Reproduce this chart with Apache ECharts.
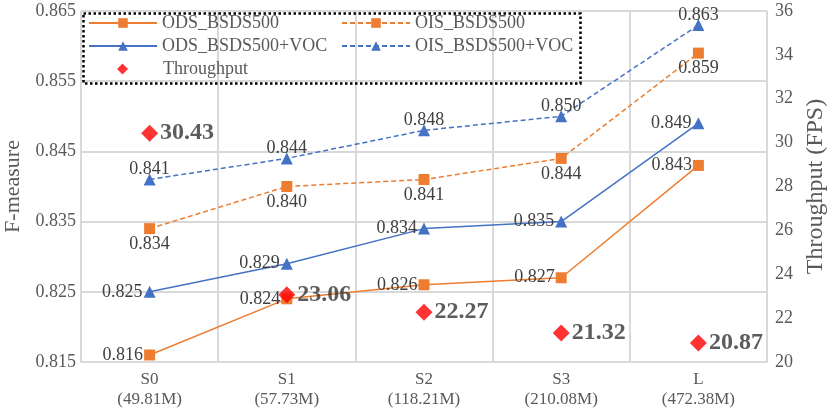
<!DOCTYPE html>
<html>
<head>
<meta charset="utf-8">
<script src="https://cdn.jsdelivr.net/npm/echarts@6/dist/echarts.min.js"></script>
<style>
html,body{margin:0;padding:0;background:#fff;}
#chart{width:831px;height:411px;}
</style>
</head>
<body>
<div id="chart"></div>
<script>
var categories = ['S0', 'S1', 'S2', 'S3', 'L'];
var modelParams = ['49.81M', '57.73M', '118.21M', '210.08M', '472.38M'];
var odsBsds = [0.816, 0.824, 0.826, 0.827, 0.843];
var oisBsds = [0.834, 0.840, 0.841, 0.844, 0.859];
var odsVoc = [0.825, 0.829, 0.834, 0.835, 0.849];
var oisVoc = [0.841, 0.844, 0.848, 0.850, 0.863];
var throughput = [30.43, 23.06, 22.27, 21.32, 20.87];
var leftTicks = {min: 0.815, max: 0.865, step: 0.01};
var rightTicks = {min: 20, max: 36, step: 2};

var FONT = "'Liberation Serif', 'Times New Roman', serif";
var ORANGE = '#ED7D31', BLUE = '#4472C4', RED = '#FF0000';
var TXT = '#595959', LBL = '#404040', GRID = '#d9d9d9';

function lineSeries(name, data, color, dashed, symbol, labelPos, dist) {
  return {
    name: name, type: 'line', data: data, yAxisIndex: 0,
    symbol: symbol, symbolSize: symbol === 'rect' ? 11 : 12,
    itemStyle: {color: color},
    lineStyle: {color: color, width: 1.5, type: dashed ? [5, 3] : 'solid'},
    label: {show: true, position: labelPos, distance: dist, color: LBL,
      fontFamily: FONT, fontSize: 18,
      formatter: function (p) { return p.value.toFixed(3); }},
    z: 3
  };
}

function legendItem(name, left, top, extra) {
  var o = {
    data: [name], left: left, top: top, orient: 'horizontal',
    itemWidth: 68, itemHeight: 12, itemGap: 0,
    textStyle: {fontFamily: FONT, fontSize: 18, color: TXT},
    selectedMode: false
  };
  if (extra) { for (var k in extra) o[k] = extra[k]; }
  return o;
}

var chart = echarts.init(document.getElementById('chart'), null, {renderer: 'canvas'});
chart.setOption({
  animation: false,
  backgroundColor: '#fff',
  grid: {left: 81, right: 64, top: 11, bottom: 49, containLabel: false, outerBoundsMode: 'none'},
  legend: [
    legendItem('ODS_BSDS500', 83, 9),
    legendItem('OIS_BSDS500', 336, 9),
    legendItem('ODS_BSDS500+VOC', 83, 32),
    legendItem('OIS_BSDS500+VOC', 336, 32),
    legendItem('Throughput', 112, 55, {
      itemWidth: 11, itemHeight: 11,
      textStyle: {fontFamily: FONT, fontSize: 18, color: TXT, padding: [0, 0, 0, 30]}
    })
  ],
  graphic: [{
    type: 'rect', left: 81, top: 11, z: 100,
    shape: {width: 497, height: 70},
    style: {fill: 'none', stroke: '#000', lineWidth: 2.5, lineDash: [2.5, 2.5]}
  }],
  xAxis: {
    type: 'category', data: categories, boundaryGap: true,
    axisLine: {lineStyle: {color: GRID, width: 2}},
    axisTick: {show: false},
    splitLine: {show: true, lineStyle: {color: GRID, width: 2}},
    axisLabel: {
      fontFamily: FONT, fontSize: 17, color: TXT, lineHeight: 20, margin: 8,
      formatter: function (v, i) { return v + '\n(' + modelParams[i] + ')'; }
    }
  },
  yAxis: [{
    type: 'value', min: leftTicks.min, max: leftTicks.max, interval: leftTicks.step,
    name: 'F-measure', nameLocation: 'middle', nameGap: 56,
    nameTextStyle: {fontFamily: FONT, fontSize: 22, color: TXT},
    axisLine: {show: false}, axisTick: {show: false},
    splitLine: {show: true, lineStyle: {color: GRID, width: 2}},
    axisLabel: {fontFamily: FONT, fontSize: 18, color: TXT, margin: 5,
      formatter: function (v) { return v.toFixed(3); }}
  }, {
    type: 'value', min: rightTicks.min, max: rightTicks.max, interval: rightTicks.step,
    name: 'Throughput (FPS)', nameLocation: 'middle', nameGap: 34,
    nameTextStyle: {fontFamily: FONT, fontSize: 24, color: TXT},
    axisLine: {show: false}, axisTick: {show: false},
    splitLine: {show: false},
    axisLabel: {fontFamily: FONT, fontSize: 18, color: TXT, margin: 8}
  }],
  series: [
    lineSeries('ODS_BSDS500', odsBsds, ORANGE, false, 'rect', 'left', 1),
    lineSeries('OIS_BSDS500', oisBsds, ORANGE, true, 'rect', 'bottom', 1),
    lineSeries('ODS_BSDS500+VOC', odsVoc, BLUE, false, 'triangle', 'left', 1),
    lineSeries('OIS_BSDS500+VOC', oisVoc, BLUE, true, 'triangle', 'top', -5),
    {
      name: 'Throughput', type: 'scatter', data: throughput, yAxisIndex: 1,
      symbol: 'diamond', symbolSize: 17, itemStyle: {color: RED}, z: 5,
      label: {show: true, position: 'right', distance: 2, color: '#333',
        fontFamily: FONT, fontSize: 24, fontWeight: 'bold',
        formatter: function (p) { return p.value.toFixed(2); }}
    }
  ]
});
</script>
</body>
</html>
